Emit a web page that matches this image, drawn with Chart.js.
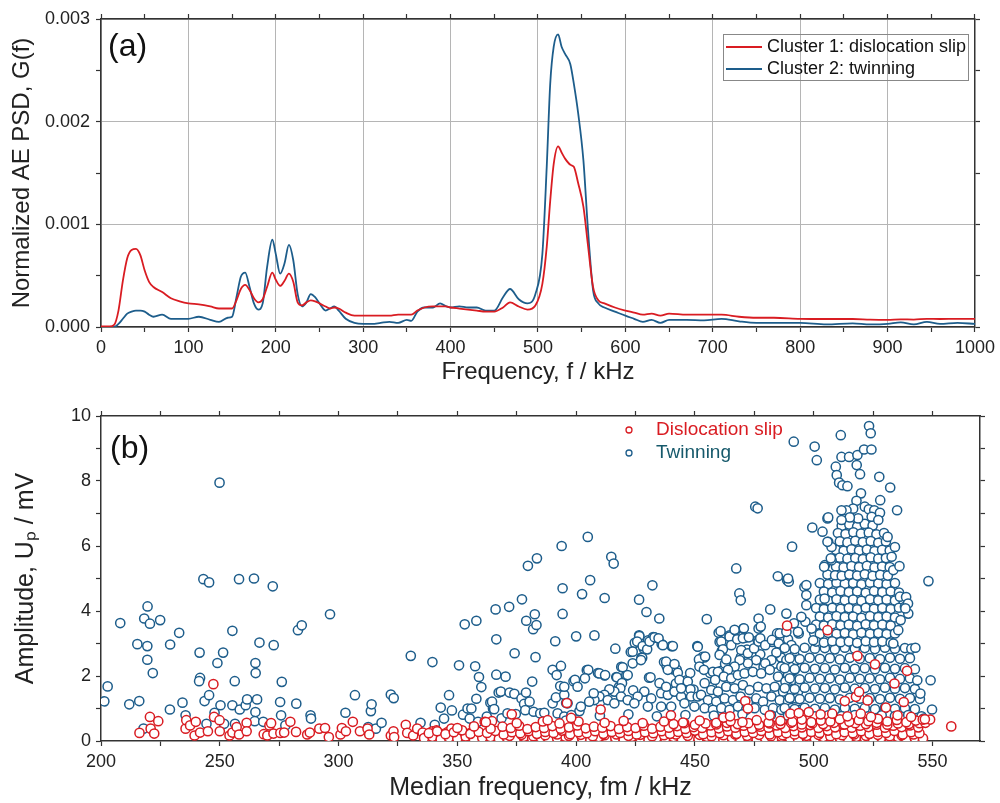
<!DOCTYPE html>
<html>
<head>
<meta charset="utf-8">
<script src="https://cdn.jsdelivr.net/npm/chart.js@4.4.1/dist/chart.umd.min.js"></script>
<style>
  html, body { margin: 0; padding: 0; background: #fff; }
  #wrap { position: relative; width: 1000px; height: 803px; }
  #psdChart { position: absolute; left: 0; top: 0; }
  #ampChart { position: absolute; left: 0; top: 390px; }
</style>
</head>
<body>
<div id="wrap">
  <canvas id="psdChart" width="1000" height="390"></canvas>
  <canvas id="ampChart" width="1000" height="413"></canvas>
</div>
<script>
// ---- panel (a): normalized AE power spectral density ----
const freqKHz = [0,10,15,20,25,30,35,40,45,50,55,60,70,80,90,100,112,125,135,145,150,155,160,165,170,175,180,185,190,196,200,205,210,215,220,225,230,235,240,245,250,257,262,267,272,280,290,300,310,320,330,340,350,355,362,370,380,388,395,400,410,420,430,440,450,460,468,478,488,497,505,510,514,518,523,527,531,537,541,546,552,557,563,569,576,588,600,610,620,630,640,650,670,690,710,730,750,770,800,830,860,880,900,915,930,945,960,980,1000];

const psdSlip = [0.000005,0.000005,0.00002,0.00016,0.00045,0.00067,0.00075,0.00076,0.0007,0.00055,0.00044,0.00039,0.00034,0.00028,0.00025,0.00023,0.00022,0.0002,0.00018,0.00018,0.00018,0.00026,0.00037,0.00041,0.00036,0.00028,0.00024,0.00027,0.00039,0.00053,0.00046,0.0004,0.00045,0.00052,0.00044,0.00024,0.00021,0.00024,0.00026,0.00025,0.00023,0.0002,0.00018,0.00019,0.00018,0.00014,0.00011,0.00011,0.00011,0.00011,0.00011,0.00012,0.00012,0.00012,0.00016,0.00019,0.0002,0.0002,0.0002,0.00019,0.00018,0.00017,0.00016,0.00015,0.00015,0.00019,0.00024,0.0002,0.00017,0.00021,0.00042,0.00078,0.00123,0.00159,0.00176,0.0017,0.00164,0.00158,0.00156,0.0014,0.00117,0.00081,0.00039,0.00026,0.00023,0.00019,0.00016,0.00014,0.00012,0.00013,0.00011,0.00013,0.00012,0.00012,0.00012,0.0001,0.00009,0.00009,0.00008,0.000078,0.000078,0.000072,0.00007,0.000075,0.000072,0.00008,0.000078,0.00008,0.00008];

const psdTwin = [0,0,0,0.00003,0.00008,0.00013,0.00015,0.00016,0.00016,0.00015,0.00012,0.0001,0.00012,0.00008,0.00008,0.00008,0.0001,0.00007,0.00005,0.00009,0.0001,0.00029,0.00049,0.00053,0.00039,0.00023,0.00017,0.00023,0.00058,0.00085,0.00071,0.00052,0.00062,0.0008,0.00065,0.00032,0.0002,0.00024,0.00032,0.00029,0.00023,0.00016,0.00018,0.0002,0.00016,0.00008,0.00004,0.00003,0.00003,0.00004,0.00005,0.00004,0.00007,0.00006,0.00015,0.00019,0.00019,0.00023,0.0002,0.00019,0.0002,0.00019,0.00019,0.00016,0.00016,0.00029,0.00037,0.00027,0.00023,0.00032,0.00071,0.00156,0.00237,0.00273,0.00285,0.00273,0.00266,0.00256,0.00237,0.00208,0.00162,0.00097,0.00036,0.00023,0.00019,0.00015,0.00011,0.00008,0.00005,0.00007,0.00004,0.00007,0.00007,0.000065,0.00008,0.000055,0.00004,0.00004,0.00004,0.000025,0.000035,0.000025,0.00003,0.000045,0.000025,0.00005,0.00003,0.00004,0.00003];

// ---- panel (b): peak amplitude vs. median frequency, [fm kHz, Up mV] ----
const slipLowFreq = [[216.2,0.25],[220.6,0.74],[220.9,0.38],[222.4,0.23],[224.1,0.61],[235.6,0.38],[235.9,0.64],[237.5,0.48],[239.4,0.17],[239.9,0.59],[241.7,0.26],[245.0,0.3],[247.3,1.75],[247.6,0.74],[249.9,0.64],[250.0,0.3],[254.1,0.17],[255.3,0.26],[257.1,0.43],[258.1,0.2],[261.3,0.56],[261.3,0.3],[268.5,0.21],[270.0,0.17],[270.9,0.48],[271.6,0.55],[272.6,0.23],[275.5,0.25],[277.1,0.26],[279.7,0.59],[282.1,0.28],[286.8,0.2],[287.9,0.26],[291.9,0.38],[294.3,0.4],[295.9,0.12],[300.8,0.2],[301.4,0.4],[303.1,0.3],[306.0,0.59],[309.0,0.3],[312.2,0.38],[312.9,0.2],[322.0,0.17],[323.1,0.3],[323.4,0.12],[328.3,0.5],[328.9,0.25],[331.4,0.17],[333.1,0.38],[335.4,0.26],[337.0,0.12],[339.5,0.3],[341.2,0.33],[343.0,0.17],[344.7,0.23],[346.1,0.28],[347.5,0.38],[349.0,0.17],[351.6,0.28],[353.7,0.17],[355.6,0.25],[357.3,0.3],[358.7,0.23],[361.5,0.59],[362.5,0.23],[364.6,0.61],[365.0,0.17],[366.4,0.28]];

const slipBandBottom = [[336,0.09],[339.5,0.13],[343,0.06],[346.5,0.11],[350,0.08],[353.5,0.14],[357,0.05],[360.5,0.1],[364,0.12],[367.5,0.07],[371,0.1],[374.5,0.05],[378,0.13],[381.5,0.08],[385,0.11],[388.5,0.06],[392,0.09],[395.5,0.13],[399,0.07],[402.5,0.1],[406,0.05],[409.5,0.12],[413,0.08],[416.5,0.1],[420,0.06],[423.5,0.13],[427,0.09],[430.5,0.05],[434,0.11],[437.5,0.08],[441,0.12],[444.5,0.06],[448,0.1],[451.5,0.07],[455,0.13],[458.5,0.09],[462,0.05],[465.5,0.11],[469,0.08],[472.5,0.12],[476,0.06],[479.5,0.1],[483,0.07],[486.5,0.13],[490,0.09],[493.5,0.05],[497,0.11],[500.5,0.08],[504,0.12],[507.5,0.06],[511,0.1],[514.5,0.07],[518,0.13],[521.5,0.09],[525,0.05],[528.5,0.11],[532,0.08],[535.5,0.12],[539,0.06],[542.5,0.1],[546,0.08],
  [372,0.16],[377,0.19],[382,0.15],[387,0.18],[392,0.2],[397,0.16],[402,0.19],[407,0.15],[412,0.18],[417,0.2],[422,0.16],[427,0.19],[432,0.15],[437,0.18],[442,0.2],[447,0.16],[452,0.19],[457,0.15],[462,0.18],[467,0.2],[472,0.16],[477,0.19],[482,0.15],[487,0.18],[492,0.2],[497,0.16],[502,0.19],[507,0.15],[512,0.18],[517,0.2],[522,0.16],[527,0.19],[532,0.15],[537,0.18],[542,0.2]];

const slipBandMiddle = [[338,0.24],[341.5,0.3],[345,0.21],[348.5,0.27],[352,0.33],[355.5,0.22],[359,0.28],[362.5,0.25],[366,0.31],[369.5,0.2],[373,0.27],[376.5,0.24],[380,0.3],[383.5,0.22],[387,0.28],[390.5,0.25],[394,0.32],[397.5,0.21],[401,0.27],[404.5,0.24],[408,0.3],[411.5,0.22],[415,0.28],[418.5,0.25],[422,0.31],[425.5,0.2],[429,0.27],[432.5,0.24],[436,0.3],[439.5,0.22],[443,0.28],[446.5,0.25],[450,0.32],[453.5,0.21],[457,0.27],[460.5,0.24],[464,0.3],[467.5,0.22],[471,0.28],[474.5,0.25],[478,0.31],[481.5,0.2],[485,0.27],[488.5,0.24],[492,0.3],[495.5,0.22],[499,0.28],[502.5,0.25],[506,0.32],[509.5,0.21],[513,0.27],[516.5,0.24],[520,0.3],[523.5,0.22],[527,0.28],[530.5,0.25],[534,0.31],[537.5,0.2],[541,0.27],[544.5,0.24],
  [350,0.4],[357,0.45],[364,0.38],[369,0.44],[372.5,0.4],[376,0.47],[379.5,0.37],[383,0.43],[386.5,0.4],[390,0.46],[393.5,0.38],[397,0.42],[400.5,0.48],[404,0.39],[407.5,0.44],[411,0.41],[414.5,0.46],[418,0.37],[421.5,0.43],[425,0.4],[428.5,0.47],[432,0.38],[435.5,0.44],[439,0.41],[442.5,0.46],[446,0.37],[449.5,0.43],[453,0.4],[456.5,0.48],[460,0.39],[463.5,0.45],[467,0.41],[470.5,0.47],[474,0.38],[477.5,0.44],[481,0.41],[484.5,0.48],[488,0.4],[491.5,0.46],[495,0.42],[498.5,0.49],[502,0.4],[505.5,0.46],[509,0.42],[512.5,0.5],[516,0.41],[519.5,0.47],[523,0.43],[526.5,0.5],[530,0.41],[533.5,0.47],[537,0.43],[540.5,0.48],[544,0.42],
  [441,0.52],[445.5,0.55],[450,0.5],[454.5,0.54],[459,0.51],[463.5,0.56],[468,0.52],[472.5,0.55],[477,0.5],[481.5,0.54],[486,0.52],[490.5,0.56],[495,0.51],[499.5,0.55],[504,0.52],[508.5,0.56],[513,0.51],[517.5,0.55],[522,0.52],[526.5,0.56],[531,0.5],[535.5,0.54],[540,0.52],[544.5,0.55]];

const slipBandTop = [[362,0.58],[375,0.55],[386,0.6],[393,0.54],[401,0.6],[412,0.56],[420,0.62],[428,0.55],[437,0.6],[445,0.57],[452,0.63],[459,0.56],[465,0.61],[470,0.58],[476,0.64],[481,0.57],[486,0.62],[491,0.59],[495,0.66],[499,0.58],[503,0.63],[507,0.6],[511,0.67],[515,0.59],[519,0.64],[523,0.61],[527,0.68],[531,0.6],[535,0.65],[539,0.58],[543,0.63],[547,0.56],
  [372.9,0.82],[388,0.64],[397.9,0.71],[462,0.72],[464.8,0.76],[481.5,0.79],[490.2,0.84],[493.7,0.86],[497.9,0.89],[502.9,0.82],[507.8,0.84],[514.2,0.76],[519.8,0.84],[524.1,0.74],[535.3,0.79],[541,0.74],[545.9,0.66]];

const slipOutliers = [[396.1,1.17],[410.3,0.97],[439.9,0.79],[471.2,1.23],[472.3,1.0],[488.8,3.55],[505.8,3.41],[518.4,2.62],[525.8,2.36],[534.0,1.77],[539.3,2.16],[537.9,1.2],[530.4,1.03],[513.1,1.23],[517.8,1.36],[519.1,1.51],[522.7,1.25],[557.9,0.45],[549.0,0.66],[546.8,0.67]];

const twinLowFreq = [[201.4,1.22],[202.8,1.68],[208.1,3.63],[211.9,1.13],[215.3,2.98],[216.1,1.23],[217.9,0.38],[218.2,3.77],[219.6,4.14],[219.5,2.92],[219.5,2.5],[220.6,3.61],[221.8,2.09],[224.9,3.72],[229.1,2.97],[229.0,0.97],[232.9,3.33],[234.3,1.18],[235.6,0.79],[241.5,2.72],[241.7,1.94],[241.3,1.84],[243.1,4.98],[245.5,4.88],[243.6,1.23],[245.5,1.41],[244.4,0.53],[247.8,0.87],[249.0,2.4],[249.9,7.95],[251.4,2.72],[250.3,1.1],[251.8,0.53],[255.3,3.39],[255.3,1.1],[256.3,1.84],[256.4,0.53],[258.1,4.98],[258.4,0.97],[260.9,1.1],[261.5,1.28],[264.4,5.0],[265.0,2.4],[265.1,2.09],[265.0,0.89],[265.7,1.28],[264.7,0.61],[266.7,3.03],[268.3,0.59],[272.3,4.76],[272.7,2.95],[275.4,1.2],[275.8,0.79],[276.1,1.82],[277.6,0.48],[282.2,1.15],[282.9,3.41],[284.5,3.56],[288.2,0.79],[288.4,0.69],[296.4,3.9],[302.9,0.87],[306.9,1.41],[312.5,0.43],[313.6,0.92],[313.9,1.13],[315.7,0.38],[318.1,0.56],[322.0,1.43],[323.2,1.32],[330.4,2.62],[334.5,0.56],[339.5,2.43],[340.5,0.5],[343.0,1.03],[344.4,0.69],[346.5,1.41],[347.7,0.94],[350.7,2.33],[353.1,3.59],[352.4,0.81],[354.3,1.0],[355.9,1.0],[355.2,0.69],[357.5,2.3],[358.0,3.7],[358.0,1.3],[359.1,1.97],[360.1,1.66],[358.7,0.59],[363.9,1.18],[365.0,1.0],[366.1,4.05],[366.4,3.13],[366.4,2.04],[367.4,1.49],
  [362.4,0.75],[364.6,1.21],[365.5,0.98],[368.3,1.52],[368.6,0.7],[370.3,1.98],[371.1,0.85],[371.8,4.13],[372,1.49],[374,1.45],[374.1,2.7],[374.6,0.83],[377,1.31],[377.2,4.36],[378.1,1.14],[378.6,0.95],[378.9,1.49],[379,3.7],[379.7,5.39],[380.4,1.21],[381.5,1.83],[381.9,3.44],[382.1,0.9],[382.6,3.9],[382.9,2.58],[383.3,3.57],[383.5,5.62],[384.9,0.85],[386.6,0.87],[390.1,1.16],[390.1,2.19],[391.2,3.07],[391.5,1.34],[391.8,2.03],[392.2,0.85],[393.3,1.69],[393.6,2.31],[393.6,0.44],[393.9,6.0],[394.3,4.7],[394.3,3.91],[395,1.42],[395,0.75],[395.7,0.63]];

const twinMidFreq = [[395.8,1.17],[398.9,1.84],[400.0,3.22],[401.4,0.92],[402.5,4.52],[404.5,2.18],[404.9,6.28],[405.9,4.95],[407.7,3.25],[409.2,2.09],[410.1,1.2],[412.0,4.4],[412.0,2.02],[414.8,5.67],[415.8,5.46],[416.5,2.84],[416.9,1.97],[418.0,1.66],[419.0,2.28],[421.1,2.02],[423.0,2.74],[424.0,1.56],[424.7,3.02],[426.5,4.35],[426.5,3.25],[427.5,2.57],[428.5,2.84],[429.6,3.97],[430.3,3.1],[430.7,1.95],[432.1,4.79],[432.4,3.2],[433.1,3.18],[435.0,3.77],[436.0,2.98],[437.0,2.43],[438.1,2.3],[440.2,2.92],[440.9,2.2],[442.3,2.2],[442.0,1.77],[444.4,1.66],[446.5,1.87],[448.0,2.09],[449.4,1.58],[451.0,2.92],[451.9,2.5],[453.3,2.59],[455.0,3.75],[454.0,2.57],[456.4,2.09],[457.1,1.66],[460.0,3.33],[460.4,3.05],[461.3,2.77],[461.1,2.16],[462.7,2.38],[464.6,3.25],[467.0,3.39],[467.4,5.31],[468.7,4.54],[469.3,4.33],[470.4,3.46],[471.1,3.18],[471.9,2.81],[469.4,2.59],[472.6,2.48],[475.4,7.21],[476.4,7.16],[476.8,3.77],[476.8,3.46],[476.4,3.1],[477.5,2.67],[478.9,2.28],[481.7,4.05],[482.5,3.05],[483.4,2.38],[484.9,5.07],[484.6,3.31],[485.7,2.92],[486.3,2.57],[488.5,3.92],[488.8,4.95],[489.5,4.9],[490.9,5.98],[491.9,2.64],[493.7,3.31],[496.1,4.74],[496.9,4.49],[496.9,4.18],[496.5,3.67],
  [426.6,3.23],[425.7,3.06],[423.8,2.75],[428.0,2.92],[429.9,2.82],[430.9,3.06],[433,3.19],[434.7,3.16],[436.5,2.95],[440.7,2.92],[427.8,2.56],
  [405.1,2.19],[409.8,2.08],[412.2,2.03],[419.6,2.27],[421.7,2.03],[417.2,1.96],[419.3,1.78],[418.6,1.62],[416.1,1.52],[414,1.59],[411.9,1.42],[409.8,1.37],[407.7,1.26],[405.5,1.21],[402,1.06],[399.5,1.88],[400.6,1.67],[403.7,1.93],[396.4,1.16],[407.4,1.47],[413.3,1.26],[416.1,1.16],[418.9,1.37],[421.7,1.26],[395,1.67],
  [423.8,2.39],[427.3,2.49],[431.3,1.96],[435.1,1.78],[437.9,2.44],[438.6,2.19],[441.4,2.37],[442.8,2.1],[443.5,1.88],[447,1.83],[448.1,1.59],[435.8,1.47],[431.6,1.31],[428.7,1.52],[425.9,1.37],[424.5,1.16],[430.2,1.06],[438.6,1.42],[441.4,1.52],[444.2,1.37],[448.4,1.37],[451.2,1.37],[445.6,1.16],[440,1.06],[435.8,1.06],[449.8,1.06],[444.2,1.62],[437.9,1.67],
  [451.2,2.9],[451.7,2.51],[454.3,2.6],[451.9,2.29],[453.8,2.19],[457.6,2.13],[459.7,2.13],[458.5,1.88],[460.8,3.38],[461.1,3.06],[461.8,2.82],[460.4,2.65],[463.2,2.51],[464.6,3.21],[465.3,2.95],[466.7,3.42],[467.8,3.13],[470.6,3.47],[470.2,3.16],[472.7,3.19],[469.5,2.8],[472.3,2.7],[474.9,2.85],[476.8,3.06],[477.7,3.52],[477.5,3.16],[479.6,2.95],[482.4,3.11],[485.7,3.31],[485.3,3.0],[484.3,2.72],[489.2,3.13],[490.6,2.95],[488.5,2.49],[492.7,2.49],[492,2.19],[489.2,2.03],[486.4,2.29],[482.2,2.49],[479.6,2.39],[475.8,2.49],[472.3,2.39],[468.8,2.49],[466.7,2.29],[463.9,2.19],[462.2,1.98],[465.3,1.93],[468.1,2.03],[470.9,2.08],[474.4,2.13],[477.9,2.08],[481.5,2.19],[485,1.98],[488.1,1.83],[491.3,1.88],[494.1,1.78],
  [454.1,1.78],[456.9,1.57],[459.7,1.52],[463.2,1.67],[466.7,1.62],[470.2,1.72],[473,1.57],[476.6,1.67],[480.1,1.62],[483.6,1.67],[487.1,1.52],[490.6,1.57],[493.4,1.52],[452.6,1.42],[455.5,1.26],[459,1.21],[462.5,1.31],[466,1.26],[469.2,1.37],[472.3,1.21],[475.8,1.31],[478.7,1.21],[482.2,1.37],[485.7,1.26],[489.2,1.21],[492.7,1.31],[454.1,1.01],[457.6,0.96],[461.1,1.01],[464.6,0.96],[468.1,1.06],[471.6,0.96],[475.1,1.01],[479.4,0.96],[482.9,1.01],[486.4,0.96],[490.6,1.01],[494.1,0.96],
  [398,0.8],[410,0.78],[422,0.82],[434,0.76],[446,0.8],[458,0.78],[470,0.82],[482,0.8]];

const twinPeakTop = [[491.6,9.21],[499.4,6.57],[500.4,9.06],[501.3,8.64],[503.7,6.44],[505.8,6.85],[505.8,6.13],[507.2,5.62],[504.4,5.36],[504.6,4.38],[509.3,8.44],[509.7,8.18],[510.7,7.95],[511.4,9.41],[511.7,8.74],[512.1,7.87],[514.9,8.74],[514.2,7.84],[518.4,8.8],[518.1,8.49],[519.5,8.21],[521.2,8.97],[523.3,9.69],[524.0,9.47],[524.3,8.97],[519.9,7.62],[527.6,8.13],[532.2,7.8],[528.0,7.41],[535.1,7.1],[536.1,5.38],[548.3,4.92],[538.9,4.43],[539.7,4.23],[538.6,4.08],[536.6,3.72],[541.1,2.84],[542.8,2.87],[543.6,1.87],[549.2,1.87],[549.8,0.97],[544.9,1.46],[546.3,0.69],
  [518,7.39],[516.6,7.15],[513.8,7.1],[511.7,7.1],[521.5,7.21],[523.2,7.13],[525.5,7.1],[524.4,6.9],[518.7,6.85],[515.2,6.88],[511.7,6.8],[506.1,6.88],[527.9,7.02],[527.2,6.8]];

const twinPeakUpper = [[511.8,6.62],[515,6.66],[518.3,6.6],[521.5,6.68],[524.8,6.63],
  [510.2,6.4],[513.4,6.37],[516.7,6.42],[519.9,6.38],[523.2,6.41],[526.4,6.36],[529.6,6.4],
  [511,6.14],[514.2,6.11],[517.5,6.16],[520.7,6.12],[524,6.15],[527.2,6.1],[530.4,6.14],
  [509.4,5.88],[512.6,5.85],[515.9,5.9],[519.1,5.86],[522.4,5.89],[525.6,5.84],[528.8,5.88],[532,5.86],
  [508.6,5.6],[511,5.64],[514.2,5.61],[517.5,5.63],[520.7,5.6],[524,5.65],[527.2,5.61],[530.4,5.63],
  [509.4,5.37],[512.6,5.34],[515.9,5.38],[519.1,5.35],[522.4,5.39],[525.6,5.34],[528.8,5.37],[532,5.35],
  [505.8,5.12],[509,5.1],[511.8,5.08],[515,5.12],[518.3,5.09],[521.5,5.13],[524.8,5.08],[528,5.11],[531.2,5.09],
  [506.1,6.13],[507.5,5.97],[504.7,5.41],[507.5,5.56],[534.2,5.97],[531.1,6.28],[532.8,5.67],[533.5,5.26]];

const twinPeakMiddle = [[502.6,4.86],[506.1,4.83],[509.6,4.87],[513.1,4.84],[516.6,4.86],[520.1,4.82],[523.7,4.87],[527.2,4.85],[530.7,4.83],[534.2,4.86],
  [504.3,4.6],[507.8,4.57],[511.3,4.61],[514.8,4.58],[518.3,4.6],[521.9,4.56],[525.4,4.61],[528.9,4.58],[532.4,4.6],[535.9,4.57],
  [502.6,4.35],[506.1,4.32],[509.6,4.36],[513.1,4.33],[516.6,4.35],[520.1,4.31],[523.7,4.36],[527.2,4.33],[530.7,4.35],[534.2,4.32],
  [501,4.09],[504.3,4.06],[507.8,4.1],[511.3,4.07],[514.8,4.09],[518.3,4.05],[521.9,4.1],[525.4,4.07],[528.9,4.09],[532.4,4.06],[535.9,4.1],
  [502.6,3.83],[506.1,3.8],[509.6,3.84],[513.1,3.81],[516.6,3.83],[520.1,3.79],[523.7,3.84],[527.2,3.81],[530.7,3.83],[534.2,3.8],
  [501,3.58],[504.3,3.55],[507.8,3.59],[511.3,3.56],[514.8,3.58],[518.3,3.54],[521.9,3.59],[525.4,3.56],[528.9,3.58],[532.4,3.55],
  [500.2,3.32],[502.6,3.29],[506.1,3.33],[509.6,3.3],[513.1,3.32],[516.6,3.28],[520.1,3.33],[523.7,3.3],[527.2,3.32],[530.7,3.29],[534.2,3.31],
  [501,3.06],[504.3,3.03],[507.8,3.07],[511.3,3.04],[514.8,3.06],[518.3,3.02],[521.9,3.07],[525.4,3.04],[528.9,3.06],[532.4,3.03],
  [496.9,4.8],[494.8,3.82],[499.1,3.46],[493.4,3.36],[499.8,3.1],[536.3,4.44],[538.4,4.13],[539.8,3.92],[535.6,3.41],[533.5,3.0],[489.2,5.0],[491.7,3.62],[488.5,3.36]];

const twinPeakLower = [[487.8,2.86],[492,2.83],[496.2,2.87],[500.5,2.84],[504.7,2.86],[508.9,2.82],[513.1,2.87],[517.3,2.84],[521.5,2.86],[525.8,2.83],[530,2.87],[534.2,2.84],[538.4,2.86],
  [489.9,2.55],[494.1,2.52],[498.3,2.56],[502.6,2.53],[506.8,2.55],[511,2.51],[515.2,2.56],[519.4,2.53],[523.6,2.55],[527.9,2.52],[532.1,2.56],[536.3,2.53],[540.5,2.55],
  [487.8,2.24],[492,2.21],[496.2,2.25],[500.5,2.22],[504.7,2.24],[508.9,2.2],[513.1,2.25],[517.3,2.22],[521.5,2.24],[525.8,2.21],[530,2.25],[534.2,2.22],[538.4,2.24],[542.6,2.21],
  [489.9,1.93],[494.1,1.9],[498.3,1.94],[502.6,1.91],[506.8,1.93],[511,1.89],[515.2,1.94],[519.4,1.91],[523.6,1.93],[527.9,1.9],[532.1,1.94],[536.3,1.91],[540.5,1.93],
  [487.8,1.63],[492,1.6],[496.2,1.64],[500.5,1.61],[504.7,1.63],[508.9,1.59],[513.1,1.64],[517.3,1.61],[521.5,1.63],[525.8,1.6],[530,1.64],[534.2,1.61],[538.4,1.63],[542.6,1.6],
  [489.9,1.32],[494.1,1.29],[498.3,1.33],[502.6,1.3],[506.8,1.32],[511,1.28],[515.2,1.33],[519.4,1.3],[523.6,1.32],[527.9,1.29],[532.1,1.33],[536.3,1.3],[540.5,1.32],[544.7,1.29],
  [487.8,1.01],[492,0.98],[496.2,1.02],[500.5,0.99],[504.7,1.01],[508.9,0.97],[513.1,1.02],[517.3,0.99],[521.5,1.01],[525.8,0.98],[530,1.02],[534.2,0.99],[538.4,1.01],[542.6,0.98],
  [489.2,0.78],[494.8,0.8],[500.5,0.76],[506.1,0.79],[511.7,0.77],[517.3,0.8],[523,0.76],[528.6,0.79],[534.2,0.77],[539.8,0.8],[545.4,0.76]];

const RED = '#d91c22';
const BLUE = '#1d5d8b';
const TEAL_TEXT = '#16596b';
const FONT = '"Liberation Sans", Arial, sans-serif';
const AXIS = '#333';

function isMajor(v, step) {
  const r = v / step;
  return Math.abs(r - Math.round(r)) < 1e-6;
}

function toXY(pairs) {
  return pairs.map(p => ({ x: p[0], y: p[1] }));
}

// top / right frame lines with outward ticks, no labels
function mirrorAxis(position, min, max, step) {
  const horizontal = position === 'top';
  return {
    type: 'linear',
    position: position,
    min: min,
    max: max,
    afterBuildTicks: s => { s.ticks = s.ticks.filter(t => isMajor(t.value, step)); },
    afterFit: s => { if (horizontal) s.height = 0; else s.width = 0; },
    ticks: { display: false, stepSize: step, autoSkip: false },
    grid: { drawOnChartArea: false, tickLength: 5, tickColor: AXIS, tickWidth: 1.2 },
    border: { display: true, color: AXIS, width: 1.5 }
  };
}

const panelTag = {
  id: 'panelTag',
  afterDraw(chart, args, opts) {
    const ctx = chart.ctx;
    ctx.save();
    ctx.fillStyle = '#111';
    ctx.font = '32px ' + FONT;
    ctx.textBaseline = 'middle';
    ctx.fillText(opts.text, opts.x, opts.y);
    ctx.restore();
  }
};

const lineLegend = {
  id: 'lineLegend',
  afterDraw(chart) {
    const ctx = chart.ctx;
    ctx.save();
    ctx.strokeStyle = '#888';
    ctx.lineWidth = 1;
    ctx.strokeRect(723.5, 34.5, 245, 46);
    ctx.font = '18px ' + FONT;
    ctx.textBaseline = 'middle';
    chart.data.datasets.forEach((ds, i) => {
      const y = 47 + i * 22;
      ctx.strokeStyle = ds.borderColor;
      ctx.lineWidth = 2;
      ctx.beginPath();
      ctx.moveTo(726, y);
      ctx.lineTo(762, y);
      ctx.stroke();
      ctx.fillStyle = '#111';
      ctx.fillText(ds.label, 767, y);
    });
    ctx.restore();
  }
};

const markerLegend = {
  id: 'markerLegend',
  afterDraw(chart) {
    const ctx = chart.ctx;
    ctx.save();
    ctx.font = '19px ' + FONT;
    ctx.textBaseline = 'middle';
    const textColors = [RED, TEAL_TEXT];
    chart.data.datasets.forEach((ds, i) => {
      const y = 40 + i * 23;
      ctx.strokeStyle = ds.borderColor;
      ctx.lineWidth = 1.3;
      ctx.beginPath();
      ctx.arc(629, y, 3, 0, Math.PI * 2);
      ctx.stroke();
      ctx.fillStyle = textColors[i];
      ctx.fillText(ds.label, 656, y);
    });
    ctx.restore();
  }
};

function drawPsdChart() {
  const ctx = document.getElementById('psdChart').getContext('2d');
  new Chart(ctx, {
    type: 'line',
    data: {
      datasets: [
        {
          label: 'Cluster 1: dislocation slip',
          data: freqKHz.map((f, i) => ({ x: f, y: psdSlip[i] })),
          borderColor: RED,
          borderWidth: 1.8,
          pointRadius: 0,
          cubicInterpolationMode: 'monotone',
          fill: false
        },
        {
          label: 'Cluster 2: twinning',
          data: freqKHz.map((f, i) => ({ x: f, y: psdTwin[i] })),
          borderColor: BLUE,
          borderWidth: 1.8,
          pointRadius: 0,
          cubicInterpolationMode: 'monotone',
          fill: false
        }
      ]
    },
    options: {
      responsive: false,
      animation: false,
      events: [],
      layout: { padding: { left: 0, top: 19, right: 21, bottom: 0 } },
      plugins: {
        legend: { display: false },
        tooltip: { enabled: false },
        panelTag: { text: '(a)', x: 108, y: 47 }
      },
      scales: {
        x: {
          type: 'linear',
          min: 0,
          max: 1000,
          afterFit: s => { s.height = 63; },
          ticks: {
            stepSize: 50, autoSkip: false, maxRotation: 0, padding: 5, color: '#222',
            font: { family: FONT, size: 18 },
            callback: v => isMajor(v, 100) ? v : ''
          },
          grid: {
            color: c => isMajor(c.tick.value, 100) ? '#b5b5b5' : 'rgba(0,0,0,0)',
            tickColor: AXIS, tickLength: 5, tickWidth: 1.2, lineWidth: 1
          },
          border: { color: AXIS, width: 1.5 },
          title: {
            display: true, text: 'Frequency, f / kHz', color: '#222',
            font: { family: FONT, size: 24 }, padding: { top: 0, bottom: 3 }
          }
        },
        y: {
          type: 'linear',
          min: 0,
          max: 0.003,
          afterFit: s => { s.width = 101; },
          ticks: {
            stepSize: 0.0005, autoSkip: false, padding: 6, color: '#222',
            font: { family: FONT, size: 18 },
            callback: v => isMajor(v, 0.001) ? v.toFixed(3) : ''
          },
          grid: {
            color: c => isMajor(c.tick.value, 0.001) ? '#b5b5b5' : 'rgba(0,0,0,0)',
            tickColor: AXIS, tickLength: 5, tickWidth: 1.2, lineWidth: 1
          },
          border: { color: AXIS, width: 1.5 },
          title: {
            display: true, text: 'Normalized AE PSD, G(f)', color: '#222',
            font: { family: FONT, size: 24 }, padding: { top: 8, bottom: 0 }
          }
        },
        x2: mirrorAxis('top', 0, 1000, 50),
        y2: mirrorAxis('right', 0, 0.003, 0.0005)
      }
    },
    plugins: [panelTag, lineLegend]
  });
}

function drawAmplitudeChart() {
  const ctx = document.getElementById('ampChart').getContext('2d');
  const slipAll = [].concat(slipLowFreq, slipBandBottom, slipBandMiddle, slipBandTop, slipOutliers);
  const twinAll = [].concat(twinLowFreq, twinMidFreq, twinPeakLower, twinPeakMiddle, twinPeakUpper, twinPeakTop);
  new Chart(ctx, {
    type: 'scatter',
    data: {
      datasets: [
        {
          label: 'Dislocation slip',
          data: toXY(slipAll),
          borderColor: RED,
          backgroundColor: '#fff',
          borderWidth: 1.5,
          pointRadius: 4.6
        },
        {
          label: 'Twinning',
          data: toXY(twinAll),
          borderColor: BLUE,
          backgroundColor: '#fff',
          borderWidth: 1.5,
          pointRadius: 4.6
        }
      ]
    },
    options: {
      responsive: false,
      animation: false,
      events: [],
      layout: { padding: { left: 0, top: 26, right: 20, bottom: 0 } },
      plugins: {
        legend: { display: false },
        tooltip: { enabled: false },
        panelTag: { text: '(b)', x: 110, y: 59 }
      },
      scales: {
        x: {
          type: 'linear',
          min: 200,
          max: 570,
          afterFit: s => { s.height = 62; },
          afterBuildTicks: s => { s.ticks = s.ticks.filter(t => isMajor(t.value, 25)); },
          ticks: {
            stepSize: 25, autoSkip: false, maxRotation: 0, padding: 5, color: '#222',
            font: { family: FONT, size: 18 },
            callback: v => isMajor(v, 50) ? v : ''
          },
          grid: { drawOnChartArea: false, tickColor: AXIS, tickLength: 5, tickWidth: 1.2 },
          border: { color: AXIS, width: 1.5 },
          title: {
            display: true, text: 'Median frequency, fm / kHz', color: '#222',
            font: { family: FONT, size: 25 }, padding: { top: 0, bottom: 0 }
          }
        },
        y: {
          type: 'linear',
          min: 0,
          max: 10,
          afterFit: s => { s.width = 101; },
          ticks: {
            stepSize: 1, autoSkip: false, padding: 5, color: '#222',
            font: { family: FONT, size: 18 },
            callback: v => isMajor(v, 2) ? v : ''
          },
          grid: { drawOnChartArea: false, tickColor: AXIS, tickLength: 5, tickWidth: 1.2 },
          border: { color: AXIS, width: 1.5 },
          title: {
            display: true, text: 'Amplitude, Uₚ / mV', color: '#222',
            font: { family: FONT, size: 25 }, padding: { top: 11, bottom: 0 }
          }
        },
        x2: mirrorAxis('top', 200, 570, 25),
        y2: mirrorAxis('right', 0, 10, 1)
      }
    },
    plugins: [panelTag, markerLegend]
  });
}

document.addEventListener('DOMContentLoaded', () => {
  drawPsdChart();
  drawAmplitudeChart();
});
</script>
</body>
</html>
